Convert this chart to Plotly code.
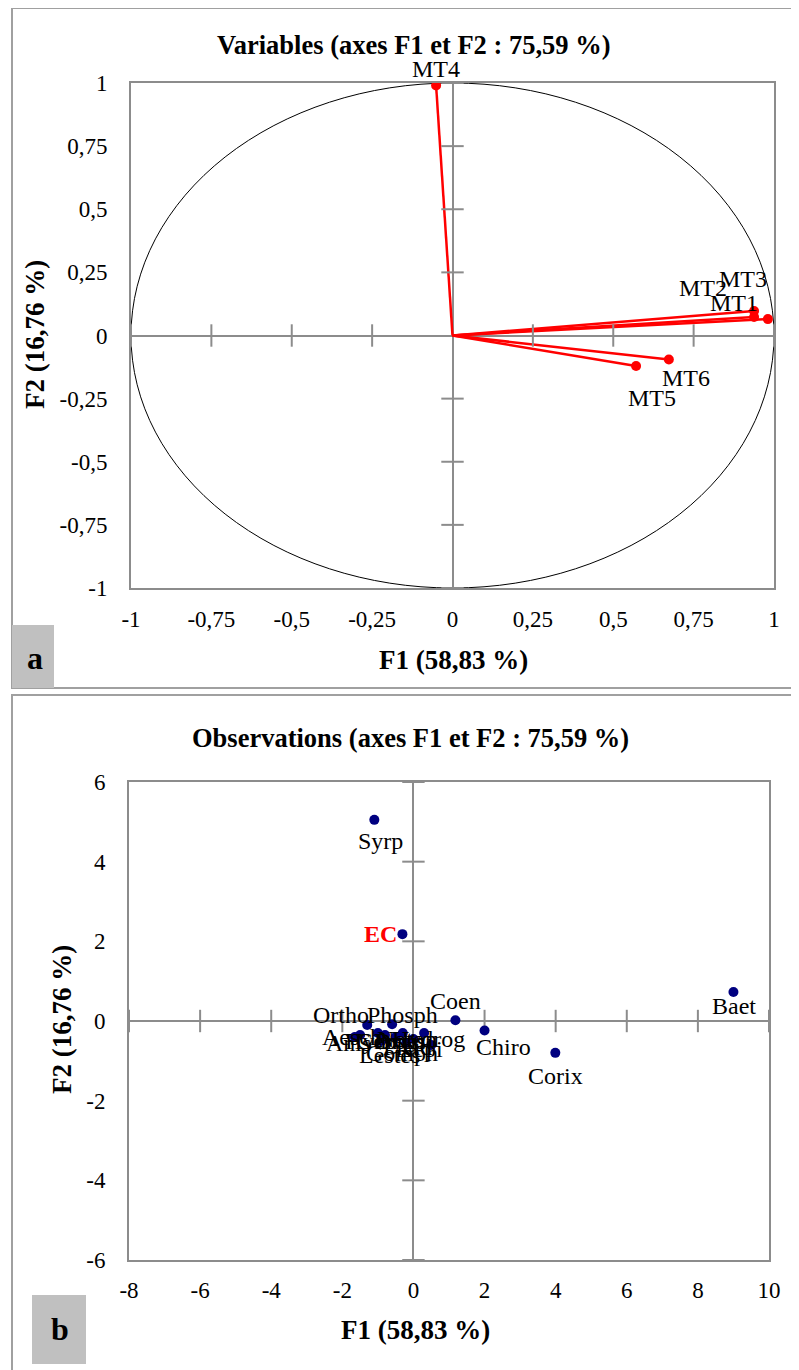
import plotly.graph_objects as go

# ---------------- data ----------------
var_names = ["MT1", "MT2", "MT3", "MT4", "MT5", "MT6"]
var_f1 = [0.981, 0.938, 0.938, -0.051, 0.571, 0.673]
var_f2 = [0.065, 0.073, 0.097, 0.99, -0.121, -0.095]

obs_names = ["Syrp", "EC", "Coen", "Chiro", "Corix", "Baet",
             "Ortho", "Phosph", "Aesch", "Anis", "Gerr", "Hydrom", "Dytis",
             "Noton", "Lestes", "Nepi", "Hydrog", "Pleid", "Gomph"]
obs_f1 = [-1.10, -0.31, 1.18, 2.00, 3.99, 9.00,
          -1.30, -0.60, -1.50, -1.65, -1.00, -0.80, -0.50,
          -0.30, -0.90, 0.50, 0.30, 0.00, -0.20]
obs_f2 = [5.05, 2.18, 0.02, -0.24, -0.80, 0.73,
          -0.10, -0.08, -0.35, -0.40, -0.30, -0.35, -0.40,
          -0.30, -0.50, -0.60, -0.30, -0.45, -0.55]

var_ticks = [-1, -0.75, -0.5, -0.25, 0, 0.25, 0.5, 0.75, 1]
var_tick_text = ["-1", "-0,75", "-0,5", "-0,25", "0", "0,25", "0,5", "0,75", "1"]
obs_xticks = [-8, -6, -4, -2, 0, 2, 4, 6, 8, 10]
obs_xtick_text = ["-8", "-6", "-4", "-2", "0", "2", "4", "6", "8", "10"]
obs_yticks = [-6, -4, -2, 0, 2, 4, 6]
obs_ytick_text = ["-6", "-4", "-2", "0", "2", "4", "6"]

# ---------------- style ----------------
W, H = 799, 1370
OFF = 8  # page body margin
FONT = "Liberation Serif, Times New Roman, serif"
GRAY = "#8c8c8c"
RED = "#ff0000"
NAVY = "#000080"

# label pixel offsets (xshift, yshift)
var_label_shift = [(-34, 16), (-51, 29), (-11, 32), (0, 17), (16, -32), (17, -19)]
obs_label_shift = {"Syrp": (6, -21), "EC": (-22, 0), "Coen": (0, 19), "Chiro": (19, -16),
                   "Corix": (0, -23), "Baet": (1, -14), "Ortho": (-26, 10), "Phosph": (10, 9),
                   "Aesch": (-8, -2), "Anis": (-6, -6), "Nepi": (-12, -4), "Lestes": (8, -14),
                   "Gerr": (0, -8), "Hydrom": (0, -6), "Dytis": (4, -4), "Noton": (4, -6),
                   "Hydrog": (4, -6), "Pleid": (-6, -8), "Gomph": (-4, -10)}


def px(xp):
    return (xp - OFF) / W


def py(yp):
    return 1 - (yp - OFF) / H


fig = go.Figure()

# ---- top panel: variables ----
lx, ly = [], []
for a, b in zip(var_f1, var_f2):
    lx += [0, a, None]
    ly += [0, b, None]
fig.add_trace(go.Scatter(x=lx, y=ly, mode="lines", line=dict(color=RED, width=2.5),
                         xaxis="x", yaxis="y", hoverinfo="skip"))
fig.add_trace(go.Scatter(x=var_f1, y=var_f2, mode="markers",
                         marker=dict(color=RED, size=10), xaxis="x", yaxis="y", hoverinfo="skip"))

tx = [t for t in var_ticks if t != 0]
fig.add_trace(go.Scatter(x=tx, y=[0] * len(tx), mode="markers",
                         marker=dict(symbol="line-ns", size=16, line=dict(color=GRAY, width=2)),
                         xaxis="x", yaxis="y", hoverinfo="skip"))
fig.add_trace(go.Scatter(x=[0] * len(tx), y=tx, mode="markers",
                         marker=dict(symbol="line-ew", size=16, line=dict(color=GRAY, width=2)),
                         xaxis="x", yaxis="y", hoverinfo="skip"))

# ---- bottom panel: observations ----
ox = [t for t in obs_xticks if t != 0]
oy = [t for t in obs_yticks if t != 0]
fig.add_trace(go.Scatter(x=ox, y=[0] * len(ox), mode="markers",
                         marker=dict(symbol="line-ns", size=16, line=dict(color=GRAY, width=2)),
                         xaxis="x2", yaxis="y2", hoverinfo="skip"))
fig.add_trace(go.Scatter(x=[0] * len(oy), y=oy, mode="markers",
                         marker=dict(symbol="line-ew", size=16, line=dict(color=GRAY, width=2)),
                         xaxis="x2", yaxis="y2", hoverinfo="skip"))
fig.add_trace(go.Scatter(x=obs_f1, y=obs_f2, mode="markers",
                         marker=dict(color=NAVY, size=10), xaxis="x2", yaxis="y2", hoverinfo="skip"))

annotations = []
for n, a, b, (sx, sy) in zip(var_names, var_f1, var_f2, var_label_shift):
    annotations.append(dict(x=a, y=b, xref="x", yref="y", text=n, showarrow=False,
                            xshift=sx, yshift=sy, font=dict(family=FONT, size=24, color="black")))
for n, a, b in zip(obs_names, obs_f1, obs_f2):
    sx, sy = obs_label_shift.get(n, (0, -16))
    if n == "EC":
        txt, col = "<b>EC</b>", RED
    else:
        txt, col = n, "black"
    annotations.append(dict(x=a, y=b, xref="x2", yref="y2", text=txt, showarrow=False,
                            xshift=sx, yshift=sy, font=dict(family=FONT, size=24, color=col)))


def lab(xp, yp, text, size, angle=0):
    return dict(x=px(xp), y=py(yp), xref="paper", yref="paper", showarrow=False,
                xanchor="center", yanchor="middle", textangle=angle,
                text=text, font=dict(family=FONT, size=size, color="black"))


annotations += [
    lab(414, 45, "<b>Variables (axes F1 et F2 : 75,59 %)</b>", 26.5),
    lab(410, 738, "<b>Observations (axes F1 et F2 : 75,59 %)</b>", 26.5),
    lab(453, 660, "<b>F1 (58,83 %)</b>", 27),
    lab(415, 1330, "<b>F1 (58,83 %)</b>", 27),
    lab(35, 335, "<b>F2 (16,76 %)</b>", 27, -90),
    lab(62, 1020, "<b>F2 (16,76 %)</b>", 27, -90),
    lab(35, 658, "<b>a</b>", 32),
    lab(60, 1329, "<b>b</b>", 32),
]

shapes = [
    # correlation circle
    dict(type="circle", xref="x", yref="y", x0=-1, y0=-1, x1=1, y1=1,
         line=dict(color="black", width=1), layer="below"),
    # panel frames
    dict(type="rect", xref="paper", yref="paper", x0=px(12), x1=px(830), y0=py(688), y1=py(8),
         line=dict(color="#a0a0a0", width=2)),
    dict(type="rect", xref="paper", yref="paper", x0=px(12), x1=px(830), y0=py(1400), y1=py(695),
         line=dict(color="#a0a0a0", width=2)),
    # letter boxes
    dict(type="rect", xref="paper", yref="paper", x0=px(12), x1=px(54), y0=py(688), y1=py(625),
         fillcolor="#c0c0c0", line=dict(width=0)),
    dict(type="rect", xref="paper", yref="paper", x0=px(32), x1=px(86), y0=py(1364), y1=py(1295),
         fillcolor="#c0c0c0", line=dict(width=0)),
]

axis_common = dict(showgrid=False, showline=True, mirror=True, linecolor=GRAY, linewidth=2,
                   zeroline=True, zerolinecolor=GRAY, zerolinewidth=2, ticks="", automargin=False,
                   tickfont=dict(family=FONT, size=23, color="black"), fixedrange=True)

fig.update_layout(
    template="none",
    width=W, height=H, autosize=False,
    margin=dict(l=0, r=0, t=0, b=0, pad=0, autoexpand=False),
    font=dict(family=FONT, color="black"),
    paper_bgcolor="white", plot_bgcolor="white", showlegend=False,
    separators=", ",
    xaxis=dict(domain=[px(131), px(774)], anchor="y", range=[-1, 1],
               tickvals=var_ticks, ticktext=var_tick_text, ticklabelstandoff=9, **axis_common),
    yaxis=dict(domain=[py(588), py(83)], anchor="x", range=[-1, 1],
               tickvals=var_ticks, ticktext=var_tick_text, ticklabelstandoff=17, **axis_common),
    xaxis2=dict(domain=[px(129), px(769)], anchor="y2", range=[-8, 10],
                tickvals=obs_xticks, ticktext=obs_xtick_text, ticklabelstandoff=8, **axis_common),
    yaxis2=dict(domain=[py(1260), py(782)], anchor="x2", range=[-6, 6],
                tickvals=obs_yticks, ticktext=obs_ytick_text, ticklabelstandoff=17, **axis_common),
    annotations=annotations,
    shapes=shapes,
)

fig.write_html("out.html")
